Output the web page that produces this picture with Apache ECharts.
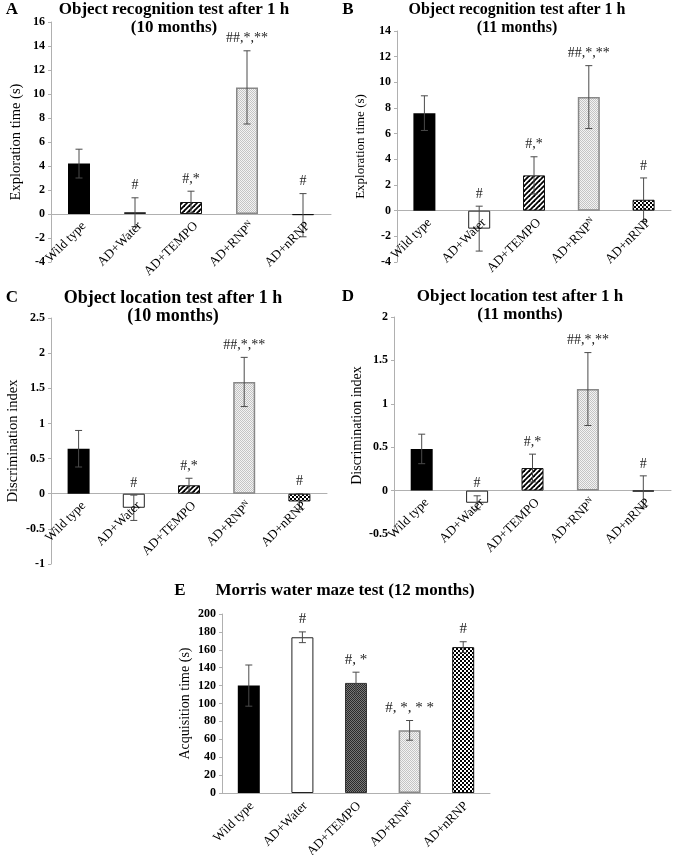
<!DOCTYPE html>
<html><head><meta charset="utf-8">
<script src="https://cdn.jsdelivr.net/npm/echarts@6/dist/echarts.min.js"></script>
<style>html,body{margin:0;padding:0;background:#fff}#c{width:675px;height:855px}</style>
</head><body><div id="c"></div>
<script>
// ---------- data ----------
const categories = ['Wild type', 'AD+Water', 'AD+TEMPO', 'AD+RNPN', 'AD+nRNP'];

const meanA = [4.2, 0.15, 1.0, 10.55, -0.1];
const errA  = [1.2, 1.2, 0.9, 3.05, 1.8];
const annA  = ['', '#', '#,*', '##,*,**', '#'];

const meanB = [7.6, -1.4, 2.75, 8.85, 0.85];
const errB  = [1.35, 1.75, 1.45, 2.45, 1.7];
const annB  = ['', '#', '#,*', '##,*,**', '#'];

const meanC = [0.64, -0.2, 0.12, 1.59, -0.11];
const errC  = [0.26, 0.18, 0.1, 0.35, 0.11];
const annC  = ['', '#', '#,*', '##,*,**', '#'];

const meanD = [0.48, -0.14, 0.26, 1.17, -0.01];
const errD  = [0.17, 0.08, 0.16, 0.42, 0.18];
const annD  = ['', '#', '#,*', '##,*,**', '#'];

const meanE = [120, 174, 123, 70, 163];
const errE  = [23, 6, 12, 11, 6];
const annE  = ['', '#', '#, *', '#, *, * *', '#'];

// ---------- patterns ----------
function pat(w, h, draw) {
  const c = document.createElement('canvas'); c.width = w; c.height = h;
  const g = c.getContext('2d'); draw(g, w, h);
  return { image: c, repeat: 'repeat' };
}
const stripes = pat(5, 5, (g, w, h) => {
  g.fillStyle = '#fff'; g.fillRect(0, 0, w, h);
  g.strokeStyle = '#000'; g.lineWidth = 1.8;
  for (let k = -1; k <= 1; k++) { g.beginPath(); g.moveTo(k * w - 1, h + 1); g.lineTo(k * w + w + 1, -1); g.stroke(); }
});
const checker = pat(4, 4, (g) => {
  g.fillStyle = '#fff'; g.fillRect(0, 0, 4, 4);
  g.fillStyle = '#000'; g.fillRect(0, 0, 2, 2); g.fillRect(2, 2, 2, 2);
});
const dotted = pat(2, 2, (g) => {
  g.fillStyle = '#f3f3f3'; g.fillRect(0, 0, 2, 2);
  g.fillStyle = '#c4c4c4'; g.fillRect(0, 0, 1, 1); g.fillRect(1, 1, 1, 1);
});
const darkHatch = pat(2, 2, (g) => {
  g.fillStyle = '#777'; g.fillRect(0, 0, 2, 2);
  g.fillStyle = '#2a2a2a'; g.fillRect(0, 0, 1, 1); g.fillRect(1, 1, 1, 1);
});

const stylesAD = [
  { color: '#000' },
  { color: '#fff', borderColor: '#222', borderWidth: 1 },
  { color: stripes, borderColor: '#111', borderWidth: 1 },
  { color: dotted, borderColor: '#888', borderWidth: 1.5 },
  { color: checker, borderColor: '#111', borderWidth: 1 }
];
const stylesE = [
  { color: '#000' },
  { color: '#fff', borderColor: '#222', borderWidth: 1 },
  { color: darkHatch, borderColor: '#333', borderWidth: 1 },
  { color: dotted, borderColor: '#888', borderWidth: 1.5 },
  { color: checker, borderColor: '#111', borderWidth: 1 }
];

const SERIF = '"Liberation Serif", "DejaVu Serif", serif';

// ---------- panels ----------
const panels = [
  { grid: { left: 51, top: 22, width: 280, height: 240 }, min: -4, max: 16, step: 2, name: 'Exploration time (s)', nameGap: 27,
    mean: meanA, err: errA, ann: annA, styles: stylesAD, annFont: 14, labelFont: 13, nameFont: 14.5, ldx: 5, ldy: 10 },
  { grid: { left: 397, top: 31, width: 274, height: 231 }, min: -4, max: 14, step: 2, name: 'Exploration time (s)', nameGap: 30,
    mean: meanB, err: errB, ann: annB, styles: stylesAD, annFont: 14, labelFont: 13, nameFont: 13, ldx: 5, ldy: 10 },
  { grid: { left: 51, top: 318, width: 276, height: 246 }, min: -1, max: 2.5, step: 0.5, name: 'Discrimination index', nameGap: 30,
    mean: meanC, err: errC, ann: annC, styles: stylesAD, annFont: 14, labelFont: 13, nameFont: 14.5, ldx: 5, ldy: 10 },
  { grid: { left: 394, top: 317, width: 277, height: 217 }, min: -0.5, max: 2, step: 0.5, name: 'Discrimination index', nameGap: 30,
    mean: meanD, err: errD, ann: annD, styles: stylesAD, annFont: 14, labelFont: 13, nameFont: 14, ldx: 5, ldy: 10 },
  { grid: { left: 222, top: 614, width: 268, height: 179 }, min: 0, max: 200, step: 20, name: 'Acquisition time (s)', nameGap: 30,
    mean: meanE, err: errE, ann: annE, styles: stylesE, annFont: 15, labelFont: 13, nameFont: 14, ldx: 3, ldy: 11 }
];

const titles = [
  { letter: 'A', lx: 12, x: 174, y: 10, size: 17, lines: ['Object recognition test after 1 h', '(10 months)'] },
  { letter: 'B', lx: 348, x: 517, y: 10, size: 16, lines: ['Object recognition test after 1 h', '(11 months)'] },
  { letter: 'C', lx: 12, x: 173, y: 298, size: 18, lines: ['Object location test after 1 h', '(10 months)'] },
  { letter: 'D', lx: 348, x: 520, y: 297, size: 17, lines: ['Object location test after 1 h', '(11 months)'] },
  { letter: 'E', lx: 180, x: 345, y: 591, size: 17, lines: ['Morris water maze test (12 months)'] }
];

const grids = [], xAxes = [], yAxes = [], series = [], graphics = [];

panels.forEach((p, k) => {
  grids.push(p.grid);
  xAxes.push({
    type: 'category', gridIndex: k, data: categories,
    axisLine: { onZero: true, lineStyle: { color: '#b0b0b0', width: 1 } },
    axisTick: { show: false },
    axisLabel: { show: false }
  });
  yAxes.push({
    type: 'value', gridIndex: k, min: p.min, max: p.max, interval: p.step,
    name: p.name, nameLocation: 'middle', nameGap: p.nameGap,
    nameTextStyle: { fontFamily: SERIF, fontSize: p.nameFont, color: '#000' },
    axisLine: { show: true, lineStyle: { color: '#b0b0b0', width: 1 } },
    axisTick: { show: true, length: 3, inside: false, lineStyle: { color: '#b0b0b0' } },
    splitLine: { show: false },
    axisLabel: { fontFamily: SERIF, fontWeight: 'bold', fontSize: 12, color: '#000', margin: 6 }
  });
  series.push({
    type: 'bar', xAxisIndex: k, yAxisIndex: k, barWidth: 22, silent: true,
    data: p.mean.map((v, i) => ({ value: v, itemStyle: p.styles[i] })),
    z: 2
  });
  // error bars + significance marks
  series.push({
    type: 'custom', xAxisIndex: k, yAxisIndex: k, silent: true, z: 5,
    data: p.mean.map((v, i) => [i, v, p.err[i]]),
    renderItem: (params, api) => {
      const i = api.value(0), m = api.value(1), e = api.value(2);
      const top = api.coord([i, m + e]), bot = api.coord([i, m - e]);
      const cap = 3.5;
      const ls = { stroke: '#4a4a4a', lineWidth: 1 };
      const children = [
        { type: 'line', shape: { x1: top[0], y1: top[1], x2: bot[0], y2: bot[1] }, style: ls },
        { type: 'line', shape: { x1: top[0] - cap, y1: top[1], x2: top[0] + cap, y2: top[1] }, style: ls },
        { type: 'line', shape: { x1: bot[0] - cap, y1: bot[1], x2: bot[0] + cap, y2: bot[1] }, style: ls }
      ];
      const t = p.ann[params.dataIndex];
      if (t) children.push({
        type: 'text', x: top[0], y: top[1] - 5,
        style: { text: t, textAlign: 'center', textVerticalAlign: 'bottom', font: p.annFont + 'px ' + SERIF, fill: '#222' }
      });
      return { type: 'group', children };
    }
  });
  // category labels, anchored at the zero line (as in the original figure)
  series.push({
    type: 'custom', xAxisIndex: k, yAxisIndex: k, silent: true, z: 6, clip: false,
    data: categories.map((c, i) => [i, 0]),
    renderItem: (params, api) => {
      const pt = api.coord([api.value(0), api.value(1)]);
      const c = categories[params.dataIndex];
      const txt = c === 'AD+RNPN' ? '{a|AD+RNP}{s|N}' : '{a|' + c + '}';
      return {
        type: 'text', x: pt[0] + p.ldx, y: pt[1] + p.ldy, rotation: Math.PI / 4,
        style: {
          text: txt, textAlign: 'right', textVerticalAlign: 'middle',
          rich: {
            a: { fontFamily: SERIF, fontSize: p.labelFont, fill: '#000' },
            s: { fontFamily: SERIF, fontSize: Math.round(p.labelFont * 0.6), fill: '#000', verticalAlign: 'top', padding: [0, 0, 6, 0] }
          }
        }
      };
    }
  });
});

titles.forEach(t => {
  graphics.push({ type: 'text', x: t.lx, y: t.y, style: { text: t.letter, textAlign: 'center', textVerticalAlign: 'middle', font: 'bold 17px ' + SERIF, fill: '#000' } });
  t.lines.forEach((ln, j) => {
    graphics.push({ type: 'text', x: t.x, y: t.y + j * 18, style: { text: ln, textAlign: 'center', textVerticalAlign: 'middle', font: 'bold ' + t.size + 'px ' + SERIF, fill: '#000' } });
  });
});

const chart = echarts.init(document.getElementById('c'), null, { renderer: 'canvas' });
chart.setOption({
  backgroundColor: '#fff',
  animation: false,
  grid: grids, xAxis: xAxes, yAxis: yAxes, series: series, graphic: graphics
});
</script></body></html>
